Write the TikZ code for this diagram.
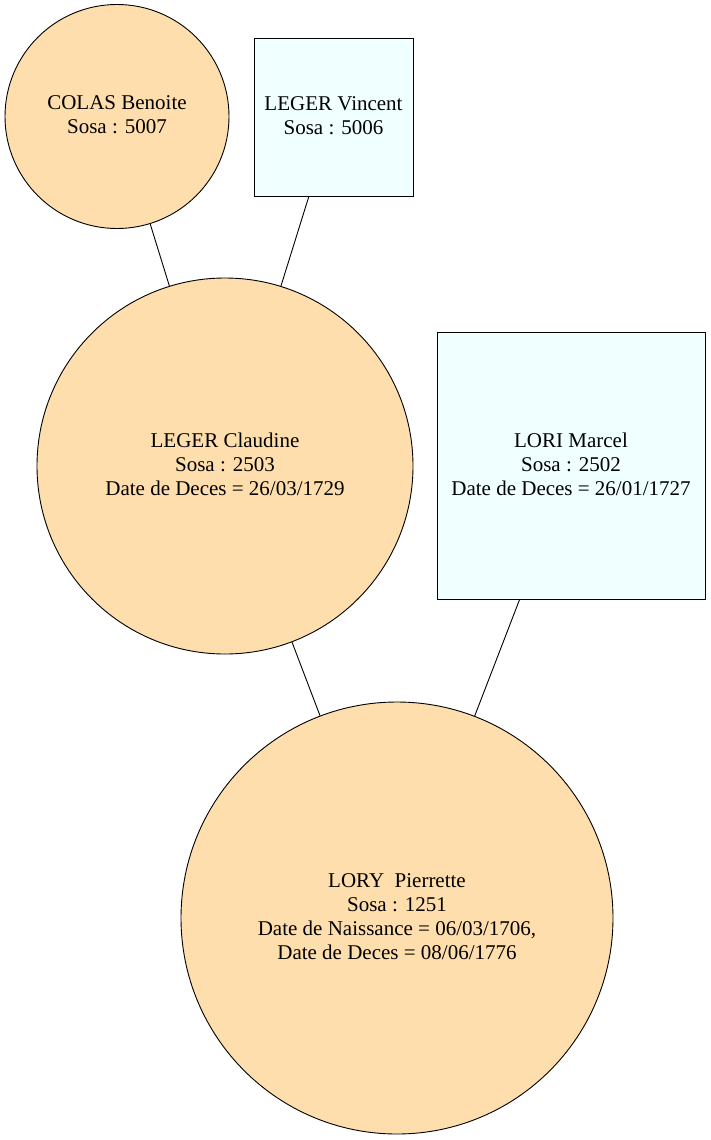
\documentclass[tikz,border=0pt]{standalone}
\usepackage{fontspec}
\setmainfont{Liberation Serif}
\begin{document}
\begin{tikzpicture}[x=1pt,y=-1pt,
  every node/.style={font=\fontsize{21pt}{24pt}\selectfont, align=center, inner sep=0pt},
  lbl/.style={yshift=1.5pt},
  female/.style={circle, draw=black, line width=0.9pt, fill=womanfill},
  male/.style={rectangle, draw=black, line width=0.9pt, fill=manfill},
  link/.style={draw=black, line width=0.9pt}]
\definecolor{womanfill}{HTML}{FFDEAD}
\definecolor{manfill}{HTML}{F0FFFF}
\useasboundingbox (0,0) rectangle (710,1140);
% people
\node[female, minimum size=224pt] (colas) at (117,116.5) {};
\node[male, minimum width=159pt, minimum height=158pt] (vincent) at (333.5,117) {};
\node[female, minimum size=376pt] (claudine) at (225,466) {};
\node[male, minimum width=268pt, minimum height=267pt] (marcel) at (571,465.5) {};
\node[female, minimum size=432pt] (pierrette) at (397,918) {};
% labels
\node[lbl] (colasT) at (colas) {COLAS Benoite\\Sosa : 5007};
\node[lbl] (vincentT) at (vincent) {LEGER Vincent\\Sosa : 5006};
\node[lbl] (claudineT) at (claudine) {LEGER Claudine\\Sosa : 2503\\Date de Deces = 26/03/1729};
\node[lbl] (marcelT) at (marcel) {LORI Marcel\\Sosa : 2502\\Date de Deces = 26/01/1727};
\node[lbl] (pierretteT) at (pierrette) {LORY\ \ Pierrette\\Sosa : 1251\\Date de Naissance = 06/03/1706,\\Date de Deces = 08/06/1776};
% parent links
\draw[link] (colas) -- (claudine);
\draw[link] (vincent) -- (claudine);
\draw[link] (claudine) -- (pierrette);
\draw[link] (marcel) -- (pierrette);
\end{tikzpicture}
\end{document}
